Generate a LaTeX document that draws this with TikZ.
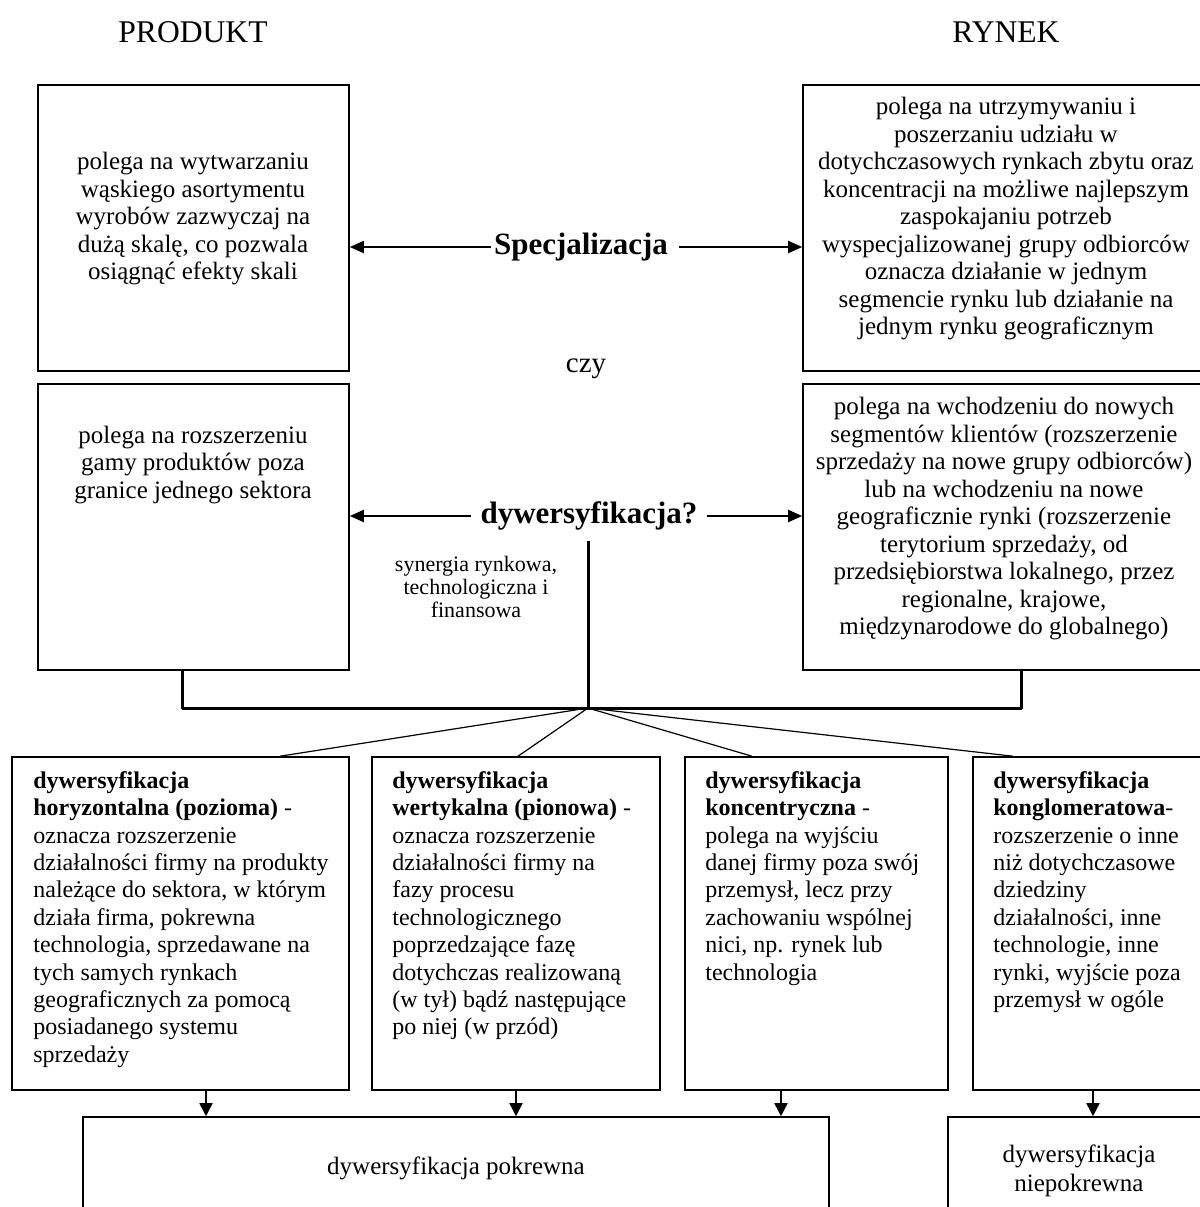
\documentclass[tikz,border=0pt]{standalone}
\usepackage{fontspec}
\setmainfont{Liberation Serif}
\usetikzlibrary{arrows.meta,calc}
\begin{document}
\begin{tikzpicture}[x=0.5pt,y=-0.5pt,
  box/.style={draw=black, line width=0.8pt, inner sep=0pt},
  head/.style={inner sep=0pt, font=\fontsize{15.8pt}{18pt}\selectfont},
  boxtxt/.style={inner sep=0pt, align=center, font=\fontsize{12.5pt}{13.75pt}\selectfont},
  bottxt/.style={inner sep=0pt, align=left, anchor=north west, font=\fontsize{12pt}{13.7pt}\selectfont},
  keyword/.style={inner sep=0pt, font=\fontsize{15.5pt}{18pt}\selectfont\bfseries},
  harrow/.style={line width=1pt, -{Triangle[length=7pt,width=6pt]}},
  varrow/.style={line width=0.8pt, -{Triangle[length=6.5pt,width=6.5pt]}},
  bracket/.style={line width=1.5pt, line join=round},
  fan/.style={line width=0.6pt}
]
\useasboundingbox (0,0) rectangle (1200,1207);

% headings
\node[head, anchor=base] (produkt) at (193,42) {PRODUKT};
\node[head, anchor=base] (rynek) at (1006,42) {RYNEK};

% top boxes
\node[box, minimum width=155.5pt, minimum height=143pt] (tl) at (193.5,228) {};
\node[box, minimum width=203.5pt, minimum height=143pt] (tr) at (1006.5,228) {};
\node[boxtxt] (tltxt) at (193,219) {polega na wytwarzaniu\\wąskiego asortymentu\\wyrobów zazwyczaj na\\dużą skalę, co pozwala\\osiągnąć efekty skali};
\node[boxtxt] (trtxt) at (1006,219) {polega na utrzymywaniu i\\poszerzaniu udziału w\\dotychczasowych rynkach zbytu oraz\\koncentracji na możliwe najlepszym\\zaspokajaniu potrzeb\\wyspecjalizowanej grupy odbiorców\\oznacza działanie w jednym\\segmencie rynku lub działanie na\\jednym rynku geograficznym};

% middle boxes
\node[box, minimum width=155.5pt, minimum height=143pt] (ml) at (193.5,527) {};
\node[box, minimum width=203.5pt, minimum height=143pt] (mr) at (1006.5,527) {};
\node[boxtxt] (mltxt) at (193,465) {polega na rozszerzeniu\\gamy produktów poza\\granice jednego sektora};
\node[boxtxt] (mrtxt) at (1004,519) {polega na wchodzeniu do nowych\\segmentów klientów (rozszerzenie\\sprzedaży na nowe grupy odbiorców)\\lub na wchodzeniu na nowe\\geograficznie rynki (rozszerzenie\\terytorium sprzedaży, od\\przedsiębiorstwa lokalnego, przez\\regionalne, krajowe,\\międzynarodowe do globalnego)};

% keywords
\node[keyword, inner xsep=1.5pt] (spec) at (581,247) {Specjalizacja};
\node[keyword, inner xsep=4.5pt] (dyw) at (589,516) {dywersyfikacja?};
\node[inner sep=0pt, anchor=base, font=\fontsize{14.5pt}{16pt}\selectfont] (czy) at (586,372) {czy};
\node[inner sep=0pt, align=center, font=\fontsize{11pt}{11.5pt}\selectfont] (syn) at (476,587) {synergia rynkowa,\\technologiczna i\\finansowa};

\draw[harrow] (spec.west) -- (spec.west -| tl.east);
\draw[harrow, shorten <=4pt] (spec.east) -- (spec.east -| tr.west);
\draw[harrow] (dyw.west) -- (dyw.west -| ml.east);
\draw[harrow] (dyw.east) -- (dyw.east -| mr.west);

% bottom boxes
\node[box, minimum width=168.5pt, minimum height=166.5pt] (b1) at (180.5,923.5) {};
\node[box, minimum width=144pt, minimum height=166.5pt] (b2) at (516,923.5) {};
\node[box, minimum width=131.5pt, minimum height=166.5pt] (b3) at (816.5,923.5) {};
\node[box, minimum width=118.5pt, minimum height=166.5pt] (b4) at (1091.5,923.5) {};

\node[bottxt] (b1txt) at (33,771) {\textbf{dywersyfikacja}\\\textbf{horyzontalna (pozioma)} -\\oznacza rozszerzenie\\działalności firmy na produkty\\należące do sektora, w którym\\działa firma, pokrewna\\technologia, sprzedawane na\\tych samych rynkach\\geograficznych za pomocą\\posiadanego systemu\\sprzedaży};
\node[bottxt] (b2txt) at (392,771) {\textbf{dywersyfikacja}\\\textbf{wertykalna (pionowa)} -\\oznacza rozszerzenie\\działalności firmy na\\fazy procesu\\technologicznego\\poprzedzające fazę\\dotychczas realizowaną\\(w tył) bądź następujące\\po niej (w przód)};
\node[bottxt] (b3txt) at (705,771) {\textbf{dywersyfikacja}\\\textbf{koncentryczna} -\\polega na wyjściu\\danej firmy poza swój\\przemysł, lecz przy\\zachowaniu wspólnej\\nici, np. rynek lub\\technologia};
\node[bottxt] (b4txt) at (993,771) {\textbf{dywersyfikacja}\\\textbf{konglomeratowa}-\\rozszerzenie o inne\\niż dotychczasowe\\dziedziny\\działalności, inne\\technologie, inne\\rynki, wyjście poza\\przemysł w ogóle};

% lowest boxes
\node[box, minimum width=373pt, minimum height=56.5pt] (pk) at (456,1173.5) {};
\node[box, minimum width=131pt, minimum height=56.5pt] (npk) at (1079,1173.5) {};
\node[boxtxt] (pktxt) at (456,1168) {dywersyfikacja pokrewna};
\node[boxtxt, font=\fontsize{12.5pt}{14.5pt}\selectfont] (npktxt) at (1079,1171) {dywersyfikacja\\niepokrewna};

% bracket and fan
\coordinate (hub) at (588,708);
\coordinate (vtop) at (588,541);
\draw[bracket] (ml.south -| 182,0) -- (182,708) -- (1021,708) -- (mr.south -| 1021,0);
\draw[bracket] (vtop) -- (hub);
\draw[fan] (hub) -- (b1.north -| 280,0);
\draw[fan] (hub) -- (b2.north -| 518,0);
\draw[fan] (hub) -- (b3.north -| 752,0);
\draw[fan] (hub) -- (b4.north -| 1013,0);

% arrows to lowest boxes
\draw[varrow] (b1.south -| 206,0) -- (pk.north -| 206,0);
\draw[varrow] (b2.south -| 516,0) -- (pk.north -| 516,0);
\draw[varrow] (b3.south -| 781,0) -- (pk.north -| 781,0);
\draw[varrow] (b4.south -| 1093,0) -- (npk.north -| 1093,0);
\end{tikzpicture}
\end{document}
